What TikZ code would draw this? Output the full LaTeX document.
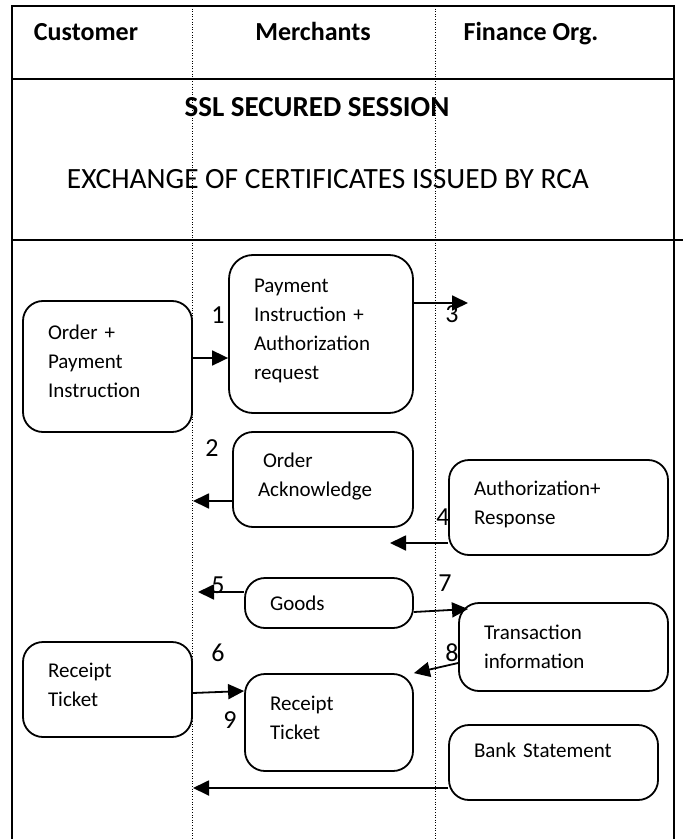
\documentclass[tikz,border=0pt]{standalone}
\usepackage{fontspec}
\setmainfont{Carlito}
\usetikzlibrary{arrows.meta}

\begin{document}
\begin{tikzpicture}[x=0.5pt,y=-0.5pt,
  frame/.style={line width=1pt},
  lane/.style={line width=0.5pt,dash pattern=on 0.5pt off 0.8pt},
  box/.style={draw,line width=0.9pt,rounded corners=10pt,align=left,inner xsep=12.5pt,
    font=\fontsize{10.5}{14.5}\selectfont},
  head/.style={anchor=base,font=\bfseries\fontsize{13}{15}\selectfont},
  num/.style={inner sep=0pt,font=\fontsize{13}{15}\selectfont},
  flow/.style={line width=0.9pt,-{Triangle[length=8pt,width=7.5pt]}}]
  \useasboundingbox (0,0) rectangle (683,839);
  % frame and lanes
  \draw[frame] (12,839) -- (12,6) -- (674,6) -- (674,839);
  \draw[frame] (12,79) -- (674,79);
  \draw[frame] (12,240) -- (683,240);
  \draw[lane] (192,6) -- (192,839);
  \draw[lane] (435,6) -- (435,839);
  % headings
  \node[head] (cust) at (86,41) {Customer};
  \node[head] (merch) at (313,41) {Merchants};
  \node[head] (fin) at (531,41) {Finance Org.};
  \node[anchor=base,font=\bfseries\fontsize{14.5}{17}\selectfont] (ssl) at (317,117) {SSL SECURED SESSION};
  \node[anchor=base,font=\fontsize{14.7}{17}\selectfont] (exch) at (328,189) {EXCHANGE OF CERTIFICATES ISSUED BY RCA};
  % customer side
  \node[box,minimum width=84.5pt,minimum height=65.5pt,text width=59.5pt,text depth=34pt] (ordpay) at (107.5,366.5)
    {Order +\\Payment\\Instruction};
  \node[box,minimum width=84.5pt,minimum height=47.5pt,text width=59.5pt,text depth=19.5pt] (rcptcust) at (107.5,689.5)
    {Receipt\\Ticket};
  % merchant side
  \node[box,rounded corners=12pt,minimum width=92pt,minimum height=79pt,text width=67pt,text depth=48pt] (payreq) at (321,334)
    {Payment\\Instruction +\\Authorization\\request};
  \node[box,minimum width=90pt,minimum height=47.5pt,text width=65pt,text depth=19pt] (ordack) at (323,479.5)
    {\hspace{2.5pt}Order\\Acknowledge};
  \node[box,minimum width=84pt,minimum height=25pt,text width=59pt] (goods) at (329,603) {Goods};
  \node[box,minimum width=84pt,minimum height=48.5pt,text width=59pt,text depth=19.5pt] (rcptmer) at (329,722.5)
    {Receipt\\Ticket};
  % finance side
  \node[box,minimum width=109.5pt,minimum height=47.5pt,text width=84.5pt,text depth=19pt] (authresp) at (558.5,507.5)
    {Authorization+\\Response};
  \node[box,minimum width=104.5pt,minimum height=44pt,text width=79.5pt] (trans) at (563.5,647)
    {Transaction\\information};
  \node[box,minimum width=104.5pt,minimum height=37.5pt,text width=79.5pt,text depth=12pt] (bankst) at (553.5,762.5)
    {Bank Statement};
  % free arrow ends
  \coordinate (tip2) at (193,501);
  \coordinate (tip3) at (468,303);
  \coordinate (tip4) at (390,543);
  \coordinate (tip5) at (198,592);
  \coordinate (tip7) at (468,609);
  \coordinate (tipb) at (193,788);
  % messages
  \draw[flow] (ordpay.east |- 0,358) -- (payreq.west |- 0,358);
  \draw[flow] (ordack.west |- tip2) -- (tip2);
  \draw[flow] (payreq.east |- tip3) -- (tip3);
  \draw[flow] (authresp.west |- tip4) -- (tip4);
  \draw[flow] (goods.west |- tip5) -- (tip5);
  \draw[flow] (rcptcust.east |- 0,693) -- (rcptmer.west |- 0,691);
  \draw[flow] (goods.east |- 0,612) -- (tip7);
  \draw[flow] (trans.west |- 0,663) -- (rcptmer.north east);
  \draw[flow] (bankst.west |- tipb) -- (tipb);
  % step numbers
  \node[num] (n1) at (218,315) {1};
  \node[num] (n2) at (212,448) {2};
  \node[num] (n3) at (452,314) {3};
  \node[num] (n4) at (443,517) {4};
  \node[num] (n5) at (218,585) {5};
  \node[num] (n6) at (218,653) {6};
  \node[num] (n7) at (445,583) {7};
  \node[num] (n8) at (452,653) {8};
  \node[num] (n9) at (230,720) {9};
\end{tikzpicture}
\end{document}
